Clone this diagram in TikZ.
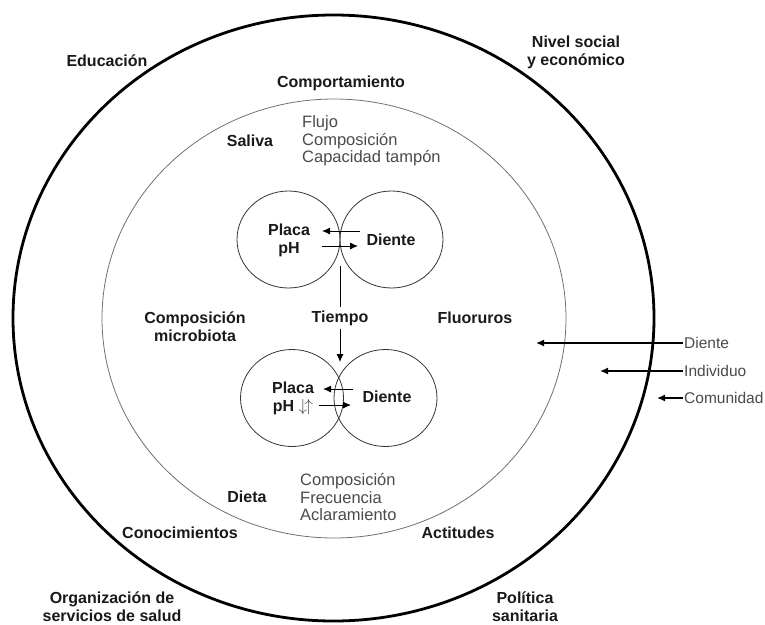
\documentclass[tikz,border=0pt]{standalone}
\usepackage{fontspec}
\setmainfont{Liberation Sans}
\usetikzlibrary{shapes.geometric,arrows.meta}
\definecolor{txtgray}{HTML}{4A4A4A}
\definecolor{ringgray}{HTML}{707070}
\tikzset{
  bold/.style={font=\fontsize{16}{18}\selectfont\bfseries, text=black!90, align=center, inner sep=1pt},
  light/.style={font=\fontsize{16.5}{17.6}\selectfont, text=txtgray, align=left, inner sep=1pt},
  side/.style={font=\fontsize{15.5}{17}\selectfont, text=txtgray, anchor=west, inner sep=1pt},
  ring/.style={ellipse, draw, inner sep=0pt},
  small/.style={ellipse, draw=black!80, line width=0.8pt, minimum width=103pt, minimum height=97pt, inner sep=0pt},
  arr/.style={-{Latex[length=8pt,width=7pt]}, line width=0.9pt},
  bigarr/.style={-{Latex[length=8pt,width=7pt]}, line width=1.4pt}
}
\begin{document}
\begin{tikzpicture}[x=1pt,y=-1pt]
\useasboundingbox (0,0) rectangle (765,624);
% rings
\node[ring, line width=2.8pt, minimum width=641pt, minimum height=606pt] (outer) at (333.5,318) {};
\node[ring, draw=ringgray, line width=0.8pt, minimum width=464pt, minimum height=439pt] (inner) at (334,318.5) {};
% small circles
\node[small] (pl1) at (288.5,239.5) {};
\node[small] (di1) at (391.5,239.5) {};
\node[small] (pl2) at (292,398) {};
\node[small] (di2) at (385.5,398) {};
% texts inside small circles
\node[bold] (placa1) at (289,240) {Placa\\pH};
\node[bold] (diente1) at (391,240) {Diente};
\node[bold, inner sep=0pt] (placa2) at (293,398) {Placa\\pH {\color{txtgray}\mdseries$\downarrow\!\uparrow$}};
\node[bold] (diente2) at (387,397) {Diente};
% arrows between plaque and tooth
\coordinate (a1s) at (360,231); \coordinate (a1e) at (322,231);
\coordinate (a2s) at (322,246); \coordinate (a2e) at (358,246);
\draw[arr] (a1s) -- (a1e);
\draw[arr] (a2s) -- (a2e);
\coordinate (b1s) at (353,389); \coordinate (b1e) at (323,389);
\coordinate (b2s) at (319,405); \coordinate (b2e) at (351,405);
\draw[arr] (b1s) -- (b1e);
\draw[arr] (b2s) -- (b2e);
% time arrow
\node[bold, inner sep=3pt] (tiempo) at (340,318) {Tiempo};
\coordinate (t0) at (340,266);
\coordinate (t1) at (340,362);
\draw[line width=0.8pt] (t0) -- (tiempo.north);
\draw[arr] (tiempo.south) -- (t1);
% labels
\node[bold] (educ) at (107,61) {Educación};
\node[bold] (nivel) at (576,52) {Nivel social\\y económico};
\node[bold] (comp) at (341,83) {Comportamiento};
\node[bold] (saliva) at (250,141) {Saliva};
\node[light, anchor=west] (salist) at (301,141) {Flujo\\Composición\\Capacidad tampón};
\node[bold] (micro) at (195,327) {Composición\\microbiota};
\node[bold] (fluor) at (475,318) {Fluoruros};
\node[bold] (dieta) at (247,497) {Dieta};
\node[light, anchor=west] (dielist) at (299,497) {Composición\\Frecuencia\\Aclaramiento};
\node[bold] (conoc) at (180,533) {Conocimientos};
\node[bold] (actit) at (458,533) {Actitudes};
\node[bold] (org) at (112,607) {Organización de\\servicios de salud};
\node[bold] (pol) at (525,607) {Política\\sanitaria};
% levels on the right
\node[side] (ldiente) at (683,343) {Diente};
\node[side] (lindiv) at (683,371) {Individuo};
\node[side] (lcomun) at (683,398) {Comunidad};
\coordinate (edie) at (536,343);
\coordinate (eind) at (600,371);
\coordinate (ecom) at (657,398);
\draw[bigarr] (ldiente.west) -- (edie);
\draw[bigarr] (lindiv.west) -- (eind);
\draw[bigarr] (lcomun.west) -- (ecom);
\end{tikzpicture}
\end{document}
